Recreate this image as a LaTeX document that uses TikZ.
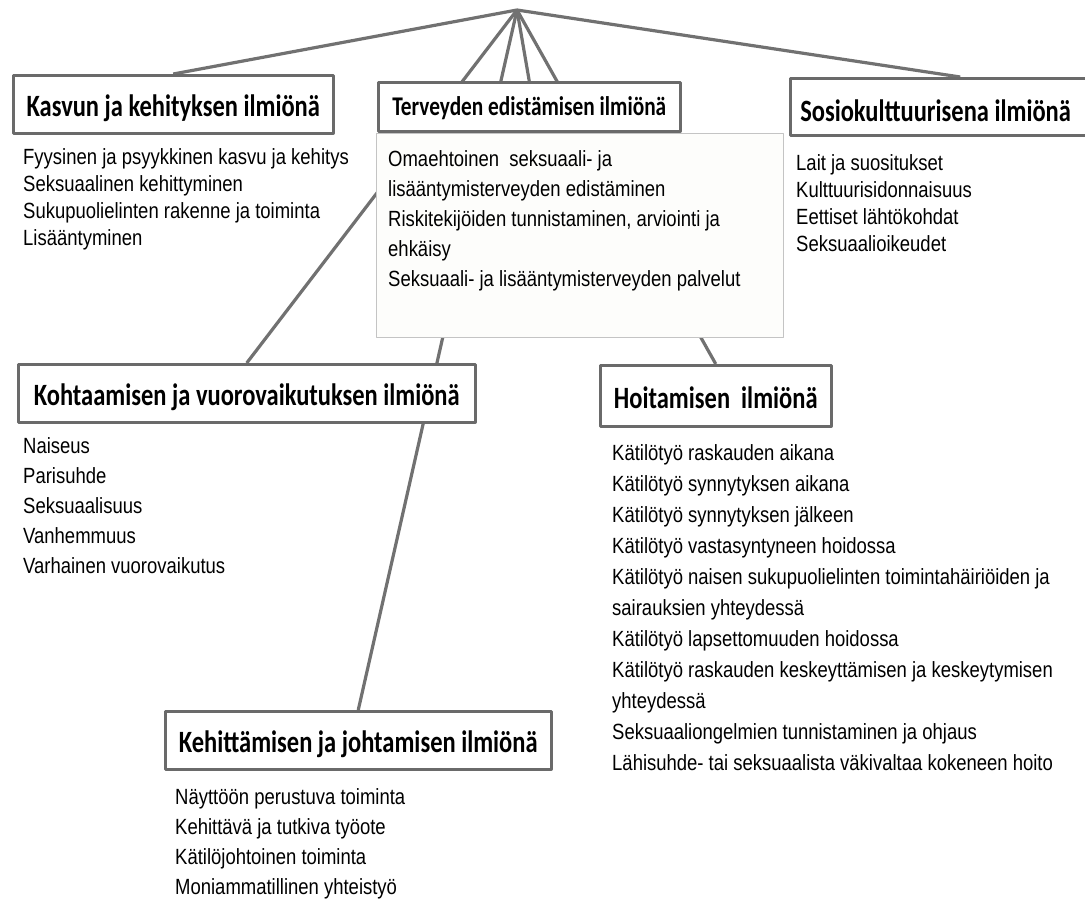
\documentclass[tikz,border=0pt]{standalone}
\usepackage{fontspec}
\setmainfont{Liberation Sans}
\newfontfamily\itemfont{Liberation Sans}[FakeStretch=0.84]
\newfontfamily\headfont{Carlito Bold}[FakeStretch=0.79]
\usetikzlibrary{backgrounds,shadows}
\definecolor{boxgray}{HTML}{6A6A6A}
\definecolor{linegray}{HTML}{717171}
\definecolor{softgray}{HTML}{C4C4C4}
\definecolor{paper}{HTML}{FDFDFB}
\begin{document}
\begin{tikzpicture}[x=1pt, y=-1pt, line join=round, line cap=round,
    headbox/.style={draw=boxgray, line width=2.5pt, fill=white, anchor=north west, inner sep=0pt,
      font=\headfont\fontsize{31}{34}\selectfont, text height=25pt, text depth=0pt,
      drop shadow={shadow xshift=1.5pt, shadow yshift=-1.5pt, opacity=.25}},
    itemlist/.style={anchor=north west, inner sep=0pt, align=left, font=\itemfont\fontsize{22}{#1}\selectfont},
    itemlist/.default=30,
    spoke/.style={draw=linegray, line width=3.2pt}]
  \useasboundingbox (0,0) rectangle (1085,902);
  \coordinate (hub) at (517,10);
  % sisältölaatikko terveyden edistämisen alla
  \node[draw=softgray, fill=paper, line width=1pt, anchor=north west, inner sep=0pt,
    minimum width=407pt, minimum height=204pt] (tervsis) at (376,133) {};
  % otsikot
  \node[headbox, minimum width=320pt, minimum height=58pt] (kasvu) at (12,74) {Kasvun ja kehityksen ilmiönä};
  \node[headbox, minimum width=302pt, minimum height=49pt, text height=17pt,
    font=\headfont\fontsize{27}{30}\selectfont] (terv) at (377,81) {Terveyden edistämisen ilmiönä};
  \node[headbox, text width=320pt, inner xsep=10pt, align=flush left, minimum height=57pt,
    text height=29pt] (sosio) at (789,77) {Sosiokulttuurisena ilmiönä};
  \node[headbox, minimum width=457pt, minimum height=58pt] (koht) at (17,363) {Kohtaamisen ja vuorovaikutuksen ilmiönä};
  \node[headbox, minimum width=231pt, minimum height=61pt] (hoit) at (599,364) {Hoitamisen\ \ ilmiönä};
  \node[headbox, minimum width=386pt, minimum height=58pt] (keh) at (164,710) {Kehittämisen ja johtamisen ilmiönä};
  % sisällöt
  \node[itemlist=27] (kasvulista) at (23,145) {\strut Fyysinen ja psyykkinen kasvu ja kehitys\\
    Seksuaalinen kehittyminen\\ Sukupuolielinten rakenne ja toiminta\\ Lisääntyminen};
  \node[itemlist] (tervlista) at (388,145) {\strut Omaehtoinen\ \ seksuaali- ja\\
    lisääntymisterveyden edistäminen\\ Riskitekijöiden tunnistaminen, arviointi ja\\ ehkäisy\\
    Seksuaali- ja lisääntymisterveyden palvelut};
  \node[itemlist=27] (sosiolista) at (796,151) {\strut Lait ja suositukset\\ Kulttuurisidonnaisuus\\
    Eettiset lähtökohdat\\ Seksuaalioikeudet};
  \node[itemlist] (kohtlista) at (23,432) {\strut Naiseus\\ Parisuhde\\ Seksuaalisuus\\ Vanhemmuus\\
    Varhainen vuorovaikutus};
  \node[itemlist=31] (hoitlista) at (612,439) {\strut Kätilötyö raskauden aikana\\
    Kätilötyö synnytyksen aikana\\ Kätilötyö synnytyksen jälkeen\\
    Kätilötyö vastasyntyneen hoidossa\\
    Kätilötyö naisen sukupuolielinten toimintahäiriöiden ja\\ sairauksien yhteydessä\\
    Kätilötyö lapsettomuuden hoidossa\\
    Kätilötyö raskauden keskeyttämisen ja keskeytymisen\\ yhteydessä\\
    Seksuaaliongelmien tunnistaminen ja ohjaus\\
    Lähisuhde- tai seksuaalista väkivaltaa kokeneen hoito};
  \node[itemlist] (kehlista) at (175,783) {\strut Näyttöön perustuva toiminta\\
    Kehittävä ja tutkiva työote\\ Kätilöjohtoinen toiminta\\ Moniammatillinen yhteistyö};
  % yhdysviivat
  \begin{scope}[on background layer]
    \foreach \kohde in {kasvu, terv, sosio, koht, hoit, keh}
      \draw[spoke] (hub) -- (\kohde.north);
  \end{scope}
\end{tikzpicture}
\end{document}
